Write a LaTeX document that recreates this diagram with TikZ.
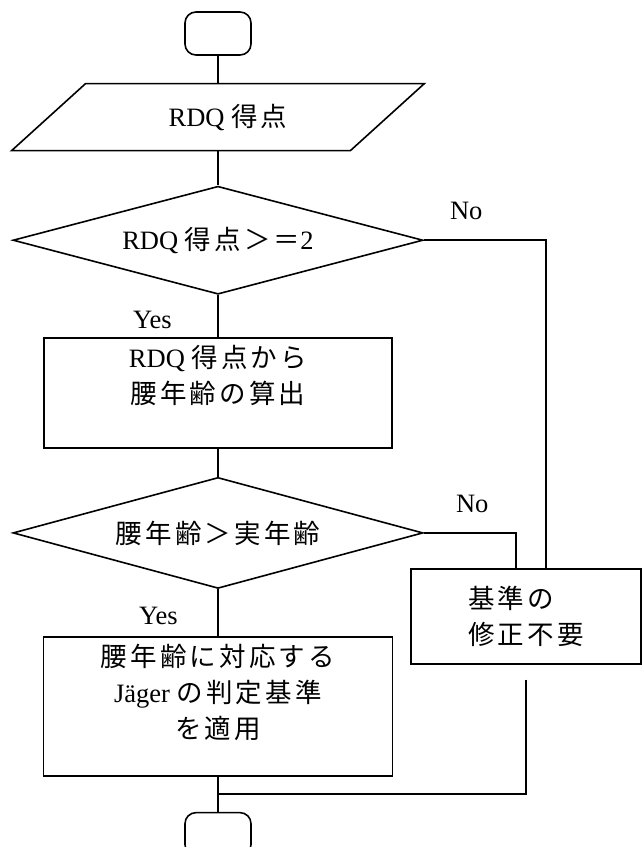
\documentclass[tikz,border=0pt]{standalone}
\usepackage{fontspec}
\setmainfont{Liberation Serif}
\newfontfamily\jp[LetterSpace=12]{Noto Sans CJK JP}
\usetikzlibrary{positioning, shapes.geometric}
\tikzset{%
  flow_font/.style={%
    font={\fontsize{26.5}{36}\selectfont}%
  },
  terminal/.style={%
    rectangle,%
    rounded corners=11,%
    draw,%
    line width=1.6,%
    minimum width=66,%
    minimum height=43%
  },
  io_block/.style={%
    trapezium,%
    trapezium left angle=39.3,%
    trapezium right angle=140.7,%
    trapezium stretches=true,%
    draw,%
    line width=1.6,%
    minimum width=413,%
    minimum height=67,%
    flow_font%
  },
  decision/.style={%
    diamond,%
    draw,%
    line width=1.6,%
    aspect=3.8,%
    inner sep=0,%
    minimum width=410,%
    minimum height=108,%
    flow_font%
  },
  process/.style={%
    rectangle,%
    draw,%
    line width=1.6,%
    inner sep=7,%
    align=center,%
    flow_font%
  },
  annotate/.style={%
    inner sep=0,%
    flow_font%
  },
  flow_path/.style={%
    line width=1.6,%
    line join=miter%
  },
  heavy_path/.style={%
    line width=2.2,%
    line join=miter%
  },
}

\begin{document}
\begin{tikzpicture}[x=1pt, y=1pt]

    \useasboundingbox (0,0) rectangle (642,-847);

    \node [terminal] (Start) at (218,-33.5) {};
    \node [io_block, below = 27 of Start] (Input) {\hspace*{20pt}RDQ {\jp 得点}};
    \node [decision, below = 34 of Input] (Check1) {RDQ {\jp 得点＞＝}2};
    \node [process, below = 42 of Check1] (Calc)
      {\parbox[c][96pt][t]{334pt}{\centering RDQ {\jp 得点から}\\{\jp 腰年齢の算出}}};
    \node [decision, below = 28 of Calc, minimum height=111] (Check2)
      {{\jp 腰年齢＞実年齢}};
    \node [process, below = 47 of Check2] (Apply)
      {\parbox[c][125pt][t]{335pt}{\centering {\jp 腰年齢に対応する}\\J\"ager {\jp の判定基準}\\{\jp を適用}}};
    \node [terminal, below = 35 of Apply] (Stop) {};
    \node [process, anchor=north west, minimum width=230, minimum height=95, align=left]
      (NoFix) at (410,-568) {{\jp 基準の}\\{\jp 修正不要}};

    \node [annotate, below left = 16 and 46 of Check1.south] (YesCheck1) {Yes};
    \node [annotate, below left = 18 and 40 of Check2.south] (YesCheck2) {Yes};
    \node [annotate, above right = 20 and 26 of Check1.east] (NoCheck1) {No};
    \node [annotate, above right = 20 and 32 of Check2.east] (NoCheck2) {No};

    \coordinate [right = 122 of Check1.east] (after_check1);
    \coordinate [right = 92 of Check2.east] (after_check2);
    \coordinate [below = 15 of NoFix.south] (after_nofix);
    \coordinate [above = 18 of Stop.north] (before_stop);

    % main column
    \draw [flow_path] (Start.south) -- (Input.north);
    \draw [flow_path] (Input.south) -- (Check1.north);
    \draw [flow_path] (Check1.south) -- (Calc.north);
    \draw [flow_path] (Calc.south) -- (Check2.north);
    \draw [flow_path] (Check2.south) -- (Apply.north);
    \draw [flow_path] (Apply.south) -- (Stop.north);

    % the No branches
    \draw [flow_path]
      (Check1.east)
      --
      (after_check1)
      --
      (after_check1 |- NoFix.north);
    \draw [heavy_path]
      (Check2.east)
      --
      (after_check2)
      --
      (after_check2 |- NoFix.north);
    \draw [heavy_path]
      (after_nofix)
      |-
      (before_stop);
  \end{tikzpicture}
\end{document}
